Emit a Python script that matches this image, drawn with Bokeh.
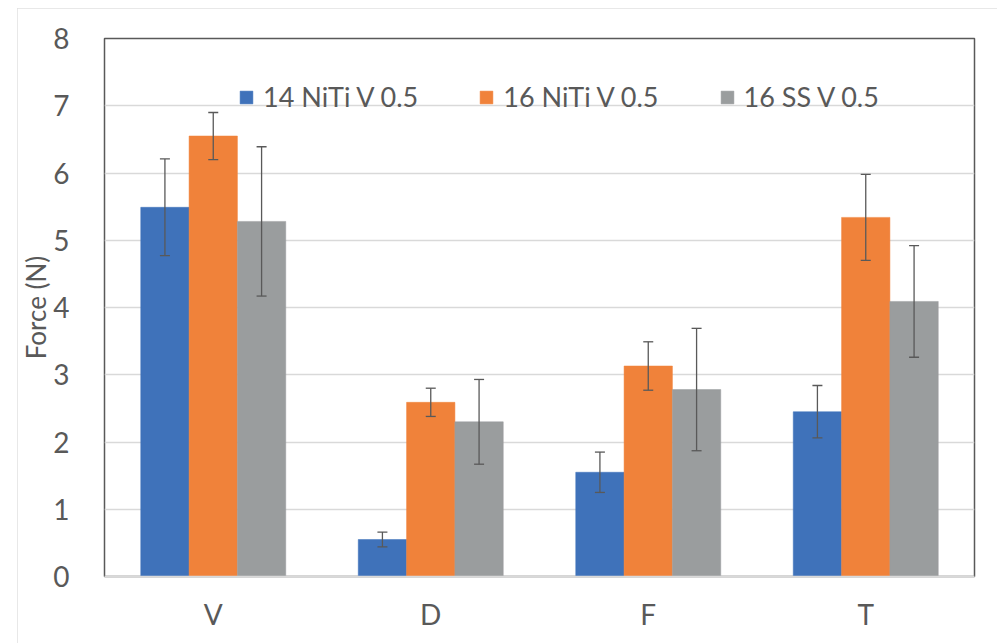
from bokeh.plotting import figure
from bokeh.models import ColumnDataSource, FactorRange, Whisker, Legend, LegendItem, Range1d, FixedTicker, TeeHead
from bokeh.transform import dodge
from bokeh.embed import file_html
from bokeh.resources import INLINE

categories = ["V", "D", "F", "T"]
series_names = ["14 NiTi V 0.5", "16 NiTi V 0.5", "16 SS V 0.5"]
niti14 = [5.49, 0.55, 1.55, 2.45]
niti14_err = [0.72, 0.11, 0.30, 0.39]
niti16 = [6.55, 2.59, 3.13, 5.34]
niti16_err = [0.35, 0.21, 0.36, 0.64]
ss16 = [5.28, 2.30, 2.78, 4.09]
ss16_err = [1.11, 0.63, 0.91, 0.83]
y_ticks = [0, 1, 2, 3, 4, 5, 6, 7, 8]

colors = ["#3F72BA", "#F0823A", "#9A9D9E"]
text_color = "#595959"
FONT = "Lato"

p = figure(
    x_range=FactorRange(*categories, range_padding=0),
    y_range=Range1d(0, 8),
    width=980, height=635,
    output_backend="svg", toolbar_location=None,
    min_border_left=87, min_border_right=23, min_border_top=30, min_border_bottom=67,
)
p.margin = (8, 0, 0, 17)
p.styles = {"outline": "2px solid #E0E0E0", "outline-offset": "-2px"}
p.background_fill_color = "white"
p.border_fill_color = "white"
p.outline_line_color = "#595959"
p.outline_line_width = 1.5

bw = 1.0 / 4.5
offsets = [-bw, 0.0, bw]
values = [niti14, niti16, ss16]
errs = [niti14_err, niti16_err, ss16_err]

items = []
for name, vals, er, off, col in zip(series_names, values, errs, offsets, colors):
    src = ColumnDataSource(dict(
        cat=categories, val=vals,
        upper=[v + e for v, e in zip(vals, er)],
        lower=[v - e for v, e in zip(vals, er)],
    ))
    r = p.vbar(x=dodge("cat", off, range=p.x_range), top="val", width=bw, bottom=0,
               source=src, fill_color=col, line_color=col, line_width=0.5)
    items.append(LegendItem(label=name, renderers=[r]))
    w = Whisker(base=dodge("cat", off, range=p.x_range), upper="upper", lower="lower",
                source=src, line_color=text_color, line_width=1.3, level="overlay",
                upper_head=TeeHead(size=10, line_color=text_color, line_width=1.3),
                lower_head=TeeHead(size=10, line_color=text_color, line_width=1.3))
    p.add_layout(w)

legend = Legend(items=items, orientation="horizontal", location=(134, 463))
legend.glyph_width = 16
legend.glyph_height = 16
legend.label_standoff = 9
legend.spacing = 60
legend.padding = 0
legend.margin = 0
legend.border_line_color = None
legend.background_fill_alpha = 0
legend.label_text_font = FONT
legend.label_text_font_size = "27px"
legend.label_text_color = text_color
p.add_layout(legend)

p.xgrid.grid_line_color = None
p.ygrid.grid_line_color = "#D9D9D9"
p.ygrid.grid_line_width = 1.5
p.yaxis.ticker = FixedTicker(ticks=y_ticks)

p.yaxis.axis_line_color = None
p.yaxis.major_tick_line_color = None
p.yaxis.minor_tick_line_color = None
p.yaxis.major_label_standoff = 29
p.yaxis.major_label_text_font = FONT
p.yaxis.major_label_text_font_size = "28px"
p.yaxis.major_label_text_color = text_color
p.yaxis.axis_label = "Force (N)"
p.yaxis.axis_label_text_font = FONT
p.yaxis.axis_label_text_font_size = "26px"
p.yaxis.axis_label_text_font_style = "normal"
p.yaxis.axis_label_text_color = text_color
p.yaxis.axis_label_standoff = -2

p.xaxis.axis_line_color = "#D9D9D9"
p.xaxis.axis_line_width = 1.5
p.xaxis.major_tick_line_color = None
p.xaxis.minor_tick_line_color = None
p.xaxis.major_label_standoff = 14
p.xaxis.major_label_text_font = FONT
p.xaxis.major_label_text_font_size = "28px"
p.xaxis.major_label_text_color = text_color

open("out.html", "w").write(file_html(p, INLINE))
